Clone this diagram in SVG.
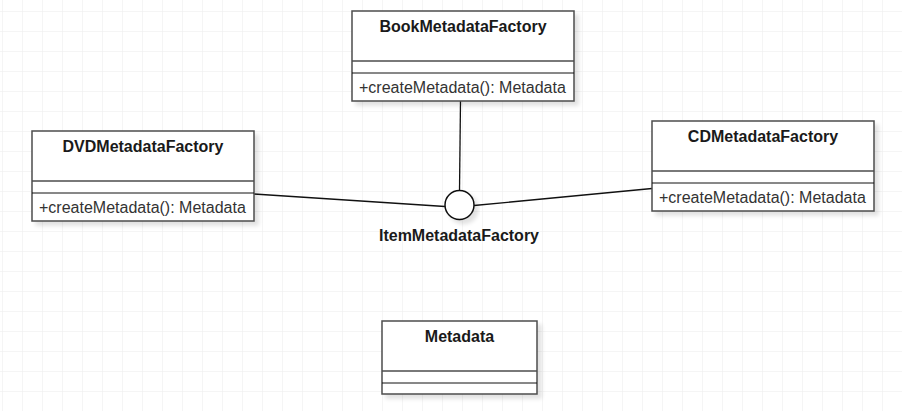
<svg xmlns="http://www.w3.org/2000/svg" width="902" height="411" viewBox="0 0 902 411">
<defs>
<pattern id="grid" x="2" y="11" width="20" height="20" patternUnits="userSpaceOnUse">
<path d="M0 0H20M0 0V20" fill="none" stroke="#ececec" stroke-width="1"/>
</pattern>
<filter id="sh" x="-10%" y="-10%" width="130%" height="140%">
<feGaussianBlur in="SourceAlpha" stdDeviation="2"/>
<feOffset dx="4" dy="4" result="b"/>
<feComponentTransfer><feFuncA type="linear" slope="0.12"/></feComponentTransfer>
<feMerge><feMergeNode/><feMergeNode in="SourceGraphic"/></feMerge>
</filter>
<style>
.box{fill:#fff;stroke:#4d4d4d;stroke-width:1.5}
.sep1{stroke:#4d4d4d;stroke-width:1.5}
.sep2{stroke:#111;stroke-width:1}
.title{font-family:"Liberation Sans",Arial,sans-serif;font-size:16px;font-weight:bold;fill:#1a1a1a;text-anchor:middle}
.meth{font-family:"Liberation Sans",Arial,sans-serif;font-size:16px;fill:#333}
.conn{stroke:#111;stroke-width:1.3;fill:none}
</style>
</defs>
<rect width="902" height="411" fill="#fff"/>
<rect width="902" height="411" fill="url(#grid)"/>

<g id="connectors">
<line class="conn" x1="460.5" y1="101" x2="459.5" y2="190.5"/>
<line class="conn" x1="254" y1="194" x2="445" y2="206.5"/>
<line class="conn" x1="474" y1="205.5" x2="652" y2="188.5"/>
</g>

<g id="BookMetadataFactory">
<g filter="url(#sh)"><rect class="box" x="352" y="11" width="222" height="90"/></g>
<line class="sep1" x1="352" y1="61" x2="574" y2="61"/>
<line class="sep2" x1="352" y1="73" x2="574" y2="73"/>
<text class="title" x="463" y="32">BookMetadataFactory</text>
<text class="meth" x="359" y="92.5">+createMetadata(): Metadata</text>
</g>

<g id="DVDMetadataFactory">
<g filter="url(#sh)"><rect class="box" x="32" y="131" width="222" height="90"/></g>
<line class="sep1" x1="32" y1="181" x2="254" y2="181"/>
<line class="sep2" x1="32" y1="193" x2="254" y2="193"/>
<text class="title" x="143" y="152">DVDMetadataFactory</text>
<text class="meth" x="39" y="212.5">+createMetadata(): Metadata</text>
</g>

<g id="CDMetadataFactory">
<g filter="url(#sh)"><rect class="box" x="652" y="121" width="222" height="90"/></g>
<line class="sep1" x1="652" y1="171" x2="874" y2="171"/>
<line class="sep2" x1="652" y1="183" x2="874" y2="183"/>
<text class="title" x="763" y="142">CDMetadataFactory</text>
<text class="meth" x="659" y="202.5">+createMetadata(): Metadata</text>
</g>

<g id="ItemMetadataFactory">
<g filter="url(#sh)"><circle cx="459.5" cy="205" r="14.5" fill="#fff" stroke="#111" stroke-width="1.5"/></g>
<text class="title" x="459" y="240.5">ItemMetadataFactory</text>
</g>

<g id="Metadata">
<g filter="url(#sh)"><rect class="box" x="382" y="321" width="155" height="73"/></g>
<line class="sep1" x1="382" y1="371" x2="537" y2="371"/>
<line class="sep2" x1="382" y1="383" x2="537" y2="383"/>
<text class="title" x="459.5" y="342">Metadata</text>
</g>
</svg>
